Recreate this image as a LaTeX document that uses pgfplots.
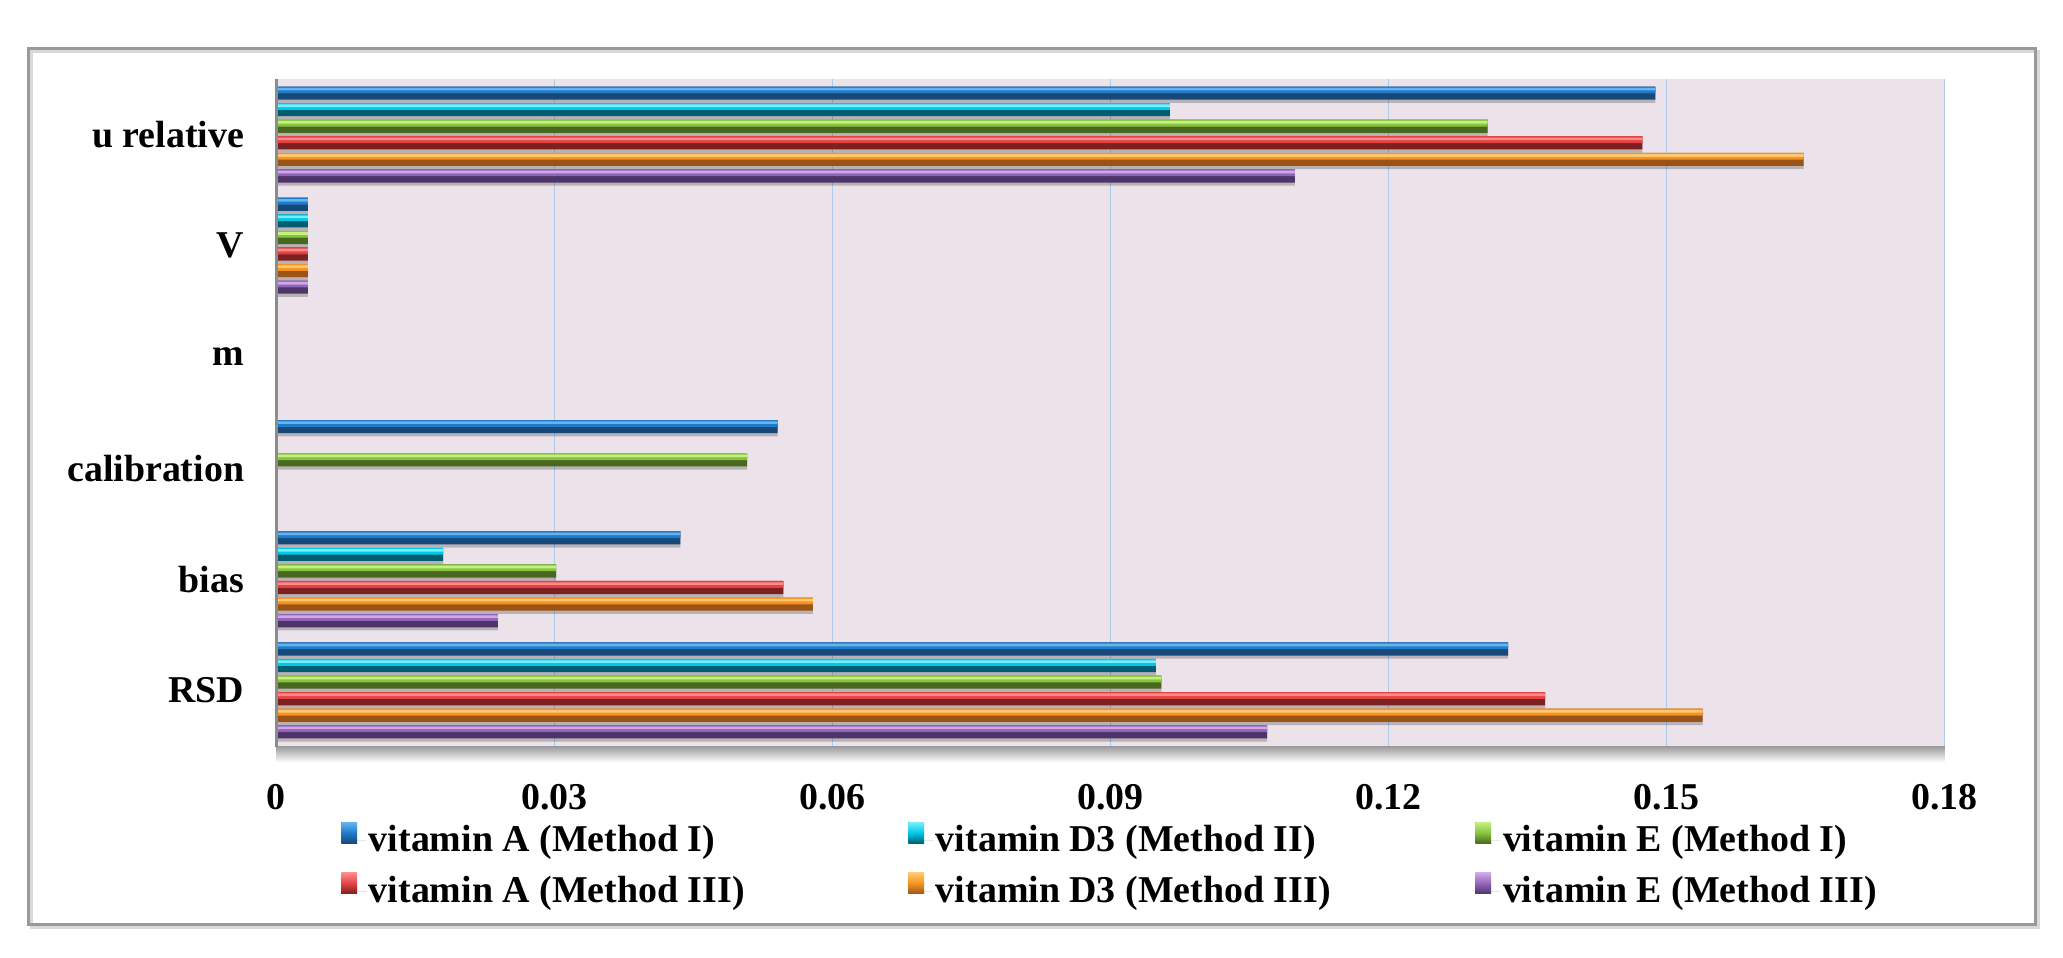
\documentclass[border=0pt]{standalone}
\usepackage{fontspec}
\setmainfont{Liberation Serif}
\usepackage{pgfplots}
\usepackage{pgfplotstable}
\pgfplotsset{compat=1.18}
\definecolor{bgc}{RGB}{236,227,234}
\definecolor{gridc}{RGB}{175,203,236}
\definecolor{aL}{RGB}{100,180,240}\definecolor{aM}{RGB}{34,122,200}\definecolor{aD}{RGB}{22,72,122}
\definecolor{dL}{RGB}{120,238,252}\definecolor{dM}{RGB}{0,200,230}\definecolor{dD}{RGB}{0,92,112}
\definecolor{eL}{RGB}{196,240,128}\definecolor{eM}{RGB}{136,196,66}\definecolor{eD}{RGB}{72,104,32}
\definecolor{rL}{RGB}{255,138,138}\definecolor{rM}{RGB}{226,66,66}\definecolor{rD}{RGB}{124,32,32}
\definecolor{oL}{RGB}{255,200,110}\definecolor{oM}{RGB}{244,146,36}\definecolor{oD}{RGB}{156,84,22}
\definecolor{pL}{RGB}{206,168,232}\definecolor{pM}{RGB}{146,100,186}\definecolor{pD}{RGB}{78,52,104}
% values per series: x = value, y = category (0 RSD, 1 bias, 2 calibration, 3 m, 4 V, 5 u relative)
\pgfplotstableread{
x y
0.1329 0
0.0436 1
0.0541 2
0.0034 4
0.1488 5
}\tA
\pgfplotstableread{
x y
0.0949 0
0.0180 1
0.0034 4
0.0964 5
}\tD
\pgfplotstableread{
x y
0.0955 0
0.0302 1
0.0508 2
0.0034 4
0.1307 5
}\tE
\pgfplotstableread{
x y
0.1369 0
0.0547 1
0.0034 4
0.1474 5
}\tAiii
\pgfplotstableread{
x y
0.1539 0
0.0579 1
0.0034 4
0.1648 5
}\tDiii
\pgfplotstableread{
x y
0.1069 0
0.0239 1
0.0034 4
0.1099 5
}\tEiii
\newcommand{\layer}[4]{\addplot[xbar, draw=none, #4, bar width=#2, bar shift=#3, forget plot] table[x=x,y=y] {#1};}
\newcommand{\series}[6]{% table, shift, L, M, D, legend text
  \addplot[xbar, draw=none, fill=#5, bar width=5pt, bar shift=#2pt,
    legend image code/.code={\fill[top color=#3, bottom color=#5, middle color=#4] (0pt,-1pt) rectangle (6pt,7pt); \path (6pt,0) -- (9.5pt,0);}]
    table[x=x,y=y] {#1};
  \addlegendentry{\makebox[204pt][l]{#6}}
  \layer{#1}{2.6pt}{#2pt+1.2pt}{fill=#4}
  \layer{#1}{1.0pt}{#2pt+1.5pt}{fill=#3}
}
\begin{document}
\begin{tikzpicture}
\useasboundingbox (0,0) rectangle (784pt,363.7pt);
\fill[white] (0,0) rectangle (784pt,363.7pt);
\draw[black!15, line width=1.2pt] (12pt,11.2pt) rectangle (774.5pt,344.2pt);
\draw[black!40, line width=1.1pt] (11pt,12.2pt) rectangle (773.5pt,345.2pt);
\fill[top color=black!40, bottom color=white] (105pt,80.2pt) rectangle (739pt,74pt);
\begin{axis}[
  at={(105pt,80.2pt)}, anchor=south west,
  scale only axis, width=634pt, height=253.5pt,
  xmin=0, xmax=0.18, ymin=-0.5, ymax=5.5,
  axis background/.style={fill=bgc},
  axis line style={draw=none},
  xtick={0,0.03,0.06,0.09,0.12,0.15,0.18},
  xticklabels={0,0.03,0.06,0.09,0.12,0.15,0.18},
  ytick={0,1,2,3,4,5},
  yticklabels={RSD,bias,calibration,m,V,u relative},
  major tick length=0pt,
  xmajorgrids, grid style={gridc, line width=0.6pt},
  ticklabel style={font=\fontsize{14.4}{17}\selectfont\bfseries},
  xticklabel style={yshift=-11pt},
  yticklabel style={xshift=-8.7pt},
  legend columns=3,
  legend style={at={(0,0)}, anchor=north west, xshift=24.5pt, yshift=-28.8pt,
    draw=none, fill=none, inner sep=0pt, row sep=5.5pt, nodes={inner sep=1pt},
    font=\fontsize{14.4}{17}\selectfont\bfseries},
  legend cell align=left,
]
% bar shadows
\layer{\tA}{5pt}{14.55pt}{fill=black, fill opacity=0.22}
\layer{\tD}{5pt}{8.25pt}{fill=black, fill opacity=0.22}
\layer{\tE}{5pt}{1.95pt}{fill=black, fill opacity=0.22}
\layer{\tAiii}{5pt}{-4.35pt}{fill=black, fill opacity=0.22}
\layer{\tDiii}{5pt}{-10.65pt}{fill=black, fill opacity=0.22}
\layer{\tEiii}{5pt}{-16.95pt}{fill=black, fill opacity=0.22}
% bars
\series{\tA}{15.75}{aL}{aM}{aD}{vitamin A (Method I)}
\series{\tD}{9.45}{dL}{dM}{dD}{vitamin D3 (Method II)}
\series{\tE}{3.15}{eL}{eM}{eD}{vitamin E (Method I)}
\series{\tAiii}{-3.15}{rL}{rM}{rD}{vitamin A (Method III)}
\series{\tDiii}{-9.45}{oL}{oM}{oD}{vitamin D3 (Method III)}
\series{\tEiii}{-15.75}{pL}{pM}{pD}{vitamin E (Method III)}
\end{axis}
\draw[black!45, line width=1.1pt] (105pt,79.7pt) -- (105pt,333.7pt);
\end{tikzpicture}
\end{document}
